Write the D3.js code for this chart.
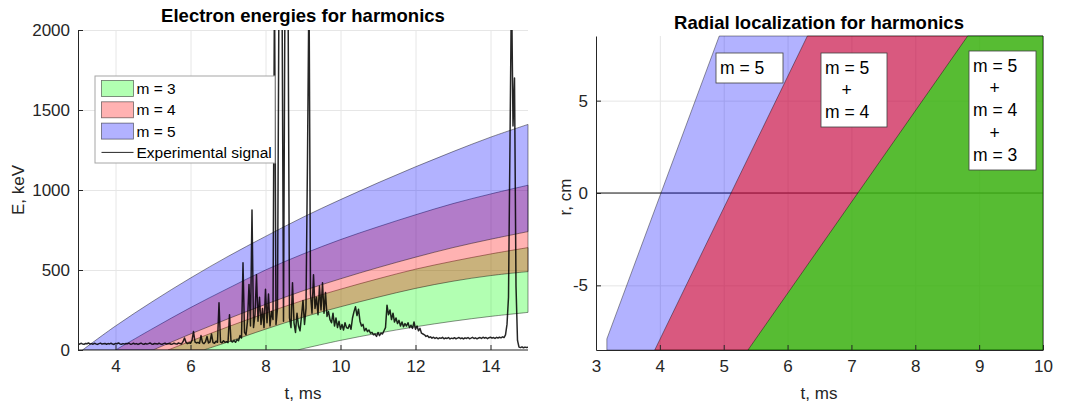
<!DOCTYPE html>
<html>
<head>
<meta charset="utf-8">
<script src="https://cdn.jsdelivr.net/npm/d3@7"></script>
<style>
  body { margin: 0; background: #fff; }
  svg { font-family: "Liberation Sans", Arial, sans-serif; }
  .grid line { stroke: #e6e6e6; }
  .grid path { display: none; }
  .ax path, .ax line { stroke: #262626; }
  .ax text { fill: #262626; font-size: 17px; font-family: "Liberation Sans", Arial, sans-serif; }
</style>
</head>
<body>
<div id="chart"></div>
<script>
// ---- left panel: energy bands (t in ms, E in keV) ----
var m5UpperT = [3.12, 4, 5, 6, 7, 8, 9, 10, 11, 12, 13, 14, 15];
var m5UpperE = [0, 150, 305, 450, 585, 710, 830, 940, 1045, 1145, 1240, 1330, 1410];
var m5LowerT = [5.0, 6, 7, 8, 9, 10, 11, 12, 13, 14, 15];
var m5LowerE = [0, 100, 195, 285, 370, 445, 515, 580, 640, 692, 740];
var m4UpperT = [4.0, 5, 6, 7, 8, 9, 10, 11, 12, 13, 14, 15];
var m4UpperE = [0, 135, 265, 385, 500, 600, 690, 770, 845, 915, 975, 1030];
var m4LowerT = [6.35, 7, 8, 9, 10, 11, 12, 13, 14, 15];
var m4LowerE = [0, 50, 130, 205, 270, 330, 385, 430, 465, 490];
var m3UpperT = [5.4, 6, 7, 8, 9, 10, 11, 12, 13, 14, 15];
var m3UpperE = [0, 55, 145, 230, 310, 380, 445, 505, 555, 600, 640];
var m3LowerT = [8.85, 9, 10, 11, 12, 13, 14, 15];
var m3LowerE = [0, 8, 60, 105, 145, 180, 210, 235];

// experimental signal, sampled every 0.04 ms from 3.00 ms
var signalStart = 3.0, signalStep = 0.04;
var signalE = [
  40,36,42,38,35,41,39,44,37,40,36,
  42,38,35,40,43,37,39,41,36,40,
  38,42,37,35,41,39,44,38,36,40,
  37,41,39,43,36,38,42,37,40,35,
  39,43,38,36,41,37,40,44,38,36,
  41,39,37,42,38,35,40,43,37,39,
  41,36,38,42,39,37,44,40,38,52,
  75,48,40,45,42,60,115,50,44,48,42,90,46,40,52,85,44,50,100,46,42,55,48,295,50,45,58,48,52,46,220,55,50,60,48,65,58,
  90,75,545,110,95,180,410,150,875,140,220,470,180,330,160,260,140,380,
  170,350,150,240,190,2300,160,260,2300,2300,2300,180,2300,2300,2300,200,140,420,170,110,230,150,120,210,310,
  160,260,1200,2300,350,230,470,260,330,220,400,250,420,230,360,210,240,190,
  170,230,150,200,140,180,130,
  160,125,170,140,135,160,130,200,240,270,215,255,180,150,160,120,135,115,125,105,110,95,100,85,110,
  90,105,100,120,140,280,220,250,190,230,175,200,165,185,150,175,145,165,150,170,140,155,135,175,130,
  150,120,135,105,100,
  95,85,90,78,82,74,80,72,78,70,76,73,79,70,75,72,78,69,74,71,
  77,70,74,78,71,75,69,76,72,78,70,74,79,72,76,70,75,78,72,80,74,78,71,77,80,
  74,78,72,79,75,80,76,82,78,95,
  160,330,1300,2300,1400,1700,400,60,18,15,20,14,18,16,17
];

var legendLabels = ["m = 3", "m = 4", "m = 5", "Experimental signal"];
var energyTicks = [0, 500, 1000, 1500, 2000];
var timeTicksLeft = [4, 6, 8, 10, 12, 14];

// ---- right panel: radial localization (t in ms, r in cm) ----
var blueEdgeT = [3.17, 3.17, 4.93];
var blueEdgeR = [-8.5, -7.9, 8.5];
var redEdgeT = [3.92, 6.31];
var redEdgeR = [-8.5, 8.5];
var greenEdgeT = [5.38, 8.82];
var greenEdgeR = [-8.5, 8.5];
var radiusTicks = [-5, 0, 5];
var timeTicksRight = [3, 4, 5, 6, 7, 8, 9, 10];
var boxTexts = [
  ["m = 5"],
  ["m = 5", "+", "m = 4"],
  ["m = 5", "+", "m = 4", "+", "m = 3"]
];

var plain = function(v) { return String(v); };   // "-5", "2000" like the original

var svg = d3.select("#chart").append("svg")
    .attr("width", 1074).attr("height", 407);

// ================= left panel =================
var L = {left: 78, right: 528, top: 30, bottom: 350};
var x1 = d3.scaleLinear().domain([3, 15]).range([L.left, L.right]);
var y1 = d3.scaleLinear().domain([0, 2000]).range([L.bottom, L.top]);

svg.append("defs").append("clipPath").attr("id", "clipL")
  .append("rect").attr("x", L.left).attr("y", L.top)
  .attr("width", L.right - L.left + 2).attr("height", L.bottom - L.top);

svg.append("g").attr("class", "grid")
  .attr("transform", "translate(0," + L.bottom + ")")
  .call(d3.axisBottom(x1).tickValues(timeTicksLeft).tickSize(-(L.bottom - L.top)).tickFormat(""));
svg.append("g").attr("class", "grid")
  .attr("transform", "translate(" + L.left + ",0)")
  .call(d3.axisLeft(y1).tickValues(energyTicks.slice(1)).tickSize(-(L.right - L.left)).tickFormat(""));

function pts(ts, vs) { return ts.map(function(t, i) { return [t, vs[i]]; }); }
var curve = d3.line().x(function(d) { return x1(d[0]); }).y(function(d) { return y1(d[1]); })
    .curve(d3.curveCatmullRom);

function bandPath(up, low) {
  var d = curve(up);
  d += curve(low.slice().reverse()).replace("M", "L");
  return d + "Z";
}

var bands = [
  {up: pts(m3UpperT, m3UpperE), low: pts(m3LowerT, m3LowerE), color: "#00ff00"},
  {up: pts(m4UpperT, m4UpperE), low: pts(m4LowerT, m4LowerE), color: "#ff0000"},
  {up: pts(m5UpperT, m5UpperE), low: pts(m5LowerT, m5LowerE), color: "#0000ff"}
];

var gL = svg.append("g").attr("clip-path", "url(#clipL)");
gL.selectAll("path.band").data(bands).enter().append("path")
  .attr("class", "band")
  .attr("d", function(b) { return bandPath(b.up, b.low); })
  .attr("fill", function(b) { return b.color; })
  .attr("fill-opacity", 0.3)
  .attr("stroke", "#000").attr("stroke-opacity", 0.55).attr("stroke-width", 0.8);

var signal = signalE.map(function(e, i) { return [signalStart + i * signalStep, e]; });
gL.append("path")
  .attr("d", d3.line().x(function(d) { return x1(d[0]); }).y(function(d) { return y1(d[1]); })(signal))
  .attr("fill", "none").attr("stroke", "#000").attr("stroke-width", 1.5)
  .attr("stroke-opacity", 0.85).attr("stroke-linejoin", "round");

var axL = svg.append("g").attr("class", "ax")
  .attr("transform", "translate(0," + L.bottom + ")")
  .call(d3.axisBottom(x1).tickValues(timeTicksLeft).tickFormat(plain)
    .tickSize(-5).tickPadding(10).tickSizeOuter(0));
axL.select(".domain").attr("d", "M" + L.left + ",0H" + L.right);
svg.append("g").attr("class", "ax")
  .attr("transform", "translate(" + L.left + ",0)")
  .call(d3.axisLeft(y1).tickValues(energyTicks).tickFormat(plain)
    .tickSize(-5).tickPadding(8).tickSizeOuter(0));

svg.append("text").attr("x", 303).attr("y", 22).attr("text-anchor", "middle")
  .attr("font-weight", "bold").attr("font-size", 18.5).attr("fill", "#000")
  .text("Electron energies for harmonics");
svg.append("text").attr("x", 303).attr("y", 399).attr("text-anchor", "middle")
  .attr("font-size", 17).attr("fill", "#262626").text("t, ms");
svg.append("text").attr("transform", "translate(24,190) rotate(-90)")
  .attr("text-anchor", "middle").attr("font-size", 17).attr("fill", "#262626").text("E, keV");

// legend
var lg = svg.append("g").attr("transform", "translate(95,76)");
lg.append("rect").attr("width", 180).attr("height", 87)
  .attr("fill", "#fff").attr("stroke", "#a6a6a6").attr("stroke-width", 1);
var legColors = ["#00ff00", "#ff0000", "#0000ff"];
legendLabels.forEach(function(lab, i) {
  var cy = 12.5 + i * 21.3;
  if (i < 3) {
    lg.append("rect").attr("x", 6.5).attr("y", cy - 8).attr("width", 32).attr("height", 16)
      .attr("fill", legColors[i]).attr("fill-opacity", 0.3)
      .attr("stroke", "#000").attr("stroke-opacity", 0.55).attr("stroke-width", 0.8);
  } else {
    lg.append("line").attr("x1", 6.5).attr("x2", 38.5).attr("y1", cy).attr("y2", cy)
      .attr("stroke", "#000").attr("stroke-opacity", 0.85).attr("stroke-width", 1);
  }
  lg.append("text").attr("x", 41.5).attr("y", cy + 5.5).attr("font-size", 15.5)
    .attr("fill", "#000").text(lab);
});

// ================= right panel =================
var R = {left: 596, right: 1043, top: 36, bottom: 350};
var x2 = d3.scaleLinear().domain([3, 10]).range([R.left, R.right]);
var y2 = d3.scaleLinear().domain([-8.5, 8.5]).range([R.bottom, R.top]);

svg.append("g").attr("class", "grid")
  .attr("transform", "translate(0," + R.bottom + ")")
  .call(d3.axisBottom(x2).tickValues(timeTicksRight.slice(1, -1)).tickSize(-(R.bottom - R.top)).tickFormat(""));
svg.append("g").attr("class", "grid")
  .attr("transform", "translate(" + R.left + ",0)")
  .call(d3.axisLeft(y2).tickValues(radiusTicks).tickSize(-(R.right - R.left)).tickFormat(""));

// zero line
svg.append("line").attr("x1", R.left).attr("x2", R.right)
  .attr("y1", y2(0)).attr("y2", y2(0)).attr("stroke", "#000").attr("stroke-width", 0.9);

function regionPath(ts, rs) {
  var p = ts.map(function(t, i) { return [x2(t), y2(rs[i])]; });
  p.push([x2(10), y2(8.5)]);
  p.push([x2(10), y2(-8.5)]);
  return "M" + p.join("L") + "Z";
}
var regions = [
  {t: blueEdgeT, r: blueEdgeR, color: "#0000ff", op: 0.3},
  {t: redEdgeT, r: redEdgeR, color: "#ff0000", op: 0.5},
  {t: greenEdgeT, r: greenEdgeR, color: "#00ff00", op: 0.6}
];
svg.selectAll("path.region").data(regions).enter().append("path")
  .attr("class", "region")
  .attr("d", function(d) { return regionPath(d.t, d.r); })
  .attr("fill", function(d) { return d.color; })
  .attr("fill-opacity", function(d) { return d.op; })
  .attr("stroke", "#000").attr("stroke-opacity", 0.5).attr("stroke-width", 0.8);

svg.append("g").attr("class", "ax")
  .attr("transform", "translate(0," + R.bottom + ")")
  .call(d3.axisBottom(x2).tickValues(timeTicksRight).tickFormat(plain)
    .tickSize(-5).tickPadding(10).tickSizeOuter(0));
svg.append("g").attr("class", "ax")
  .attr("transform", "translate(" + R.left + ",0)")
  .call(d3.axisLeft(y2).tickValues(radiusTicks).tickFormat(plain)
    .tickSize(-5).tickPadding(8).tickSizeOuter(0));

svg.append("text").attr("x", 819).attr("y", 29).attr("text-anchor", "middle")
  .attr("font-weight", "bold").attr("font-size", 18.5).attr("fill", "#000")
  .text("Radial localization for harmonics");
svg.append("text").attr("x", 819).attr("y", 399).attr("text-anchor", "middle")
  .attr("font-size", 17).attr("fill", "#262626").text("t, ms");
svg.append("text").attr("transform", "translate(571,197) rotate(-90)")
  .attr("text-anchor", "middle").attr("font-size", 17).attr("fill", "#262626").text("r, cm");

// annotation boxes
var boxPos = [
  {x: 716, y: 53, w: 67, h: 30},
  {x: 821, y: 53, w: 66, h: 74},
  {x: 969, y: 51, w: 67, h: 119}
];
boxTexts.forEach(function(lines, k) {
  var b = boxPos[k];
  var g = svg.append("g");
  g.append("rect").attr("x", b.x).attr("y", b.y).attr("width", b.w).attr("height", b.h)
    .attr("fill", "#fff").attr("stroke", "#404040").attr("stroke-width", 0.8);
  lines.forEach(function(s, i) {
    var tx = b.x + 4;
    g.append("text")
      .attr("x", s === "+" ? tx + 21.5 : tx)
      .attr("y", b.y + 21 + i * 22.2)
      .attr("text-anchor", s === "+" ? "middle" : "start")
      .attr("font-size", 17.5).attr("fill", "#000").text(s);
  });
});
</script>
</body>
</html>
